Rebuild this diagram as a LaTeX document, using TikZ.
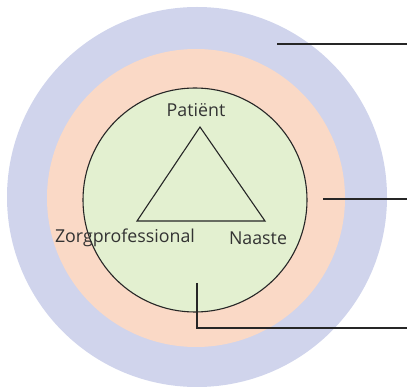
\documentclass[tikz,border=0pt]{standalone}
\usepackage{fontspec}
\setmainfont{Open Sans}
\begin{document}
\begin{tikzpicture}[x=1pt,y=-1pt,
  ring/.style={circle,inner sep=0pt,minimum size=#1},
  lbl/.style={font=\fontsize{17.8}{20}\selectfont,text=black!80,inner sep=0pt},
  lead/.style={line width=1.1pt,draw=black!85},
  edge/.style={line width=1.1pt,draw=black!85}]
\useasboundingbox (0,0) rectangle (407,387);
\definecolor{cblue}{RGB}{208,212,236}
\definecolor{corange}{RGB}{250,217,198}
\definecolor{cgreen}{RGB}{227,240,208}
\node[ring=380pt,fill=cblue] (outer) at (197,197) {};
\node[ring=298pt,fill=corange] (mid) at (196,198) {};
\node[ring=224pt,fill=cgreen,draw=black!85,line width=1.1pt] (inner) at (195,200) {};
\coordinate (P) at (200,127);
\coordinate (Z) at (137,221);
\coordinate (N) at (265,221);
\draw[edge,line join=miter] (P) -- (Z) -- (N) -- cycle;
\node[lbl] (tp) at (196,110) {Patiënt};
\node[lbl] (tz) at (125,238) {Zorgprofessional};
\node[lbl] (tn) at (258,238) {Naaste};
\coordinate (a1) at (277,44);
\coordinate (a2) at (407,44);
\coordinate (b1) at (323,199);
\coordinate (b2) at (407,199);
\coordinate (c1) at (197,283);
\coordinate (c2) at (197,328);
\coordinate (c3) at (407,328);
\draw[lead] (a1) -- (a2);
\draw[lead] (b1) -- (b2);
\draw[lead] (c1) -- (c2) -- (c3);
\end{tikzpicture}
\end{document}
